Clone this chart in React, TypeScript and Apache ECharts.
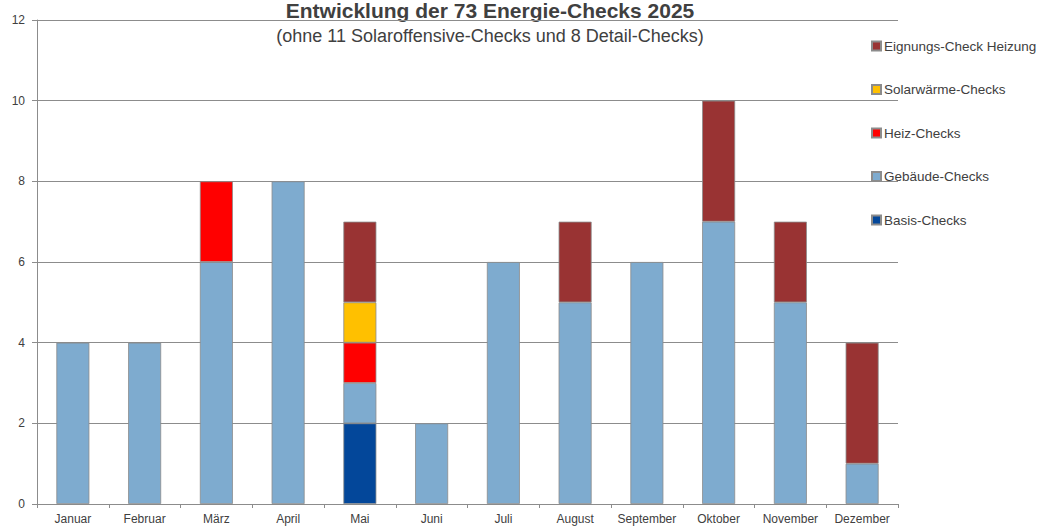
import React, { useEffect, useRef } from "react";
import * as echarts from "echarts";

const months = ["Januar", "Februar", "März", "April", "Mai", "Juni", "Juli", "August", "September", "Oktober", "November", "Dezember"];
const basis = [0, 0, 0, 0, 2, 0, 0, 0, 0, 0, 0, 0];
const gebaeude = [4, 4, 6, 8, 1, 2, 6, 5, 6, 7, 5, 1];
const heiz = [0, 0, 2, 0, 1, 0, 0, 0, 0, 0, 0, 0];
const solar = [0, 0, 0, 0, 1, 0, 0, 0, 0, 0, 0, 0];
const eignung = [0, 0, 0, 0, 2, 0, 0, 2, 0, 3, 2, 3];

const FONT = "'Liberation Sans', Arial, sans-serif";

export default function App() {
  const ref = useRef<HTMLDivElement>(null);
  useEffect(() => {
    const chart = echarts.init(ref.current!, null, { renderer: "svg" });
    const mk = (name: string, data: number[], color: string) => ({
      name,
      type: "bar",
      stack: "total",
      barWidth: 33,
      data: data.map((v) => (v === 0 ? null : v)),
      itemStyle: { color, borderColor: "#8c8c8c", borderWidth: 0.8 },
    });
    chart.setOption({
      animation: false,
      backgroundColor: "#ffffff",
      textStyle: { fontFamily: FONT },
      graphic: [
        {
          type: "text",
          x: 490,
          y: 0,
          style: {
            text: "Entwicklung der 73 Energie-Checks 2025",
            fontFamily: FONT,
            fontWeight: "bold",
            fontSize: 21,
            fill: "#404040",
            align: "center",
            verticalAlign: "top",
          },
        },
        {
          type: "text",
          x: 490,
          y: 36,
          style: {
            text: "(ohne 11 Solaroffensive-Checks und 8 Detail-Checks)",
            fontFamily: FONT,
            fontSize: 18,
            fill: "#404040",
            align: "center",
            verticalAlign: "middle",
          },
        },
      ],
      legend: {
        orient: "vertical",
        left: 866,
        top: 34,
        itemWidth: 9,
        itemHeight: 9,
        itemGap: 29.5,
        icon: "rect",
        textStyle: { fontFamily: FONT, fontSize: 13.5, color: "#404040", padding: [0, 0, 0, -2] },
        data: ["Eignungs-Check Heizung", "Solarwärme-Checks", "Heiz-Checks", "Gebäude-Checks", "Basis-Checks"],
      },
      grid: { left: 37, right: 145, top: 20, bottom: 23 },
      xAxis: {
        type: "category",
        data: months,
        axisLine: { lineStyle: { color: "#8c8c8c" } },
        axisTick: { show: true, length: 4, lineStyle: { color: "#8c8c8c" } },
        axisLabel: { fontFamily: FONT, fontSize: 12, color: "#404040", margin: 9, interval: 0 },
      },
      yAxis: {
        type: "value",
        min: 0,
        max: 12,
        interval: 2,
        axisLine: { show: true, lineStyle: { color: "#8c8c8c" } },
        axisTick: { show: true, length: 5, lineStyle: { color: "#8c8c8c" } },
        axisLabel: { fontFamily: FONT, fontSize: 12, color: "#404040", margin: 12 },
        splitLine: { show: true, lineStyle: { color: "#8c8c8c", width: 1 } },
      },
      series: [
        mk("Basis-Checks", basis, "#03479a"),
        mk("Gebäude-Checks", gebaeude, "#7eabcf"),
        mk("Heiz-Checks", heiz, "#ff0000"),
        mk("Solarwärme-Checks", solar, "#ffc000"),
        mk("Eignungs-Check Heizung", eignung, "#993333"),
      ],
    });
    return () => chart.dispose();
  }, []);
  return <div ref={ref} style={{ width: 1043, height: 527, position: "absolute", left: 0, top: 0 }} />;
}
